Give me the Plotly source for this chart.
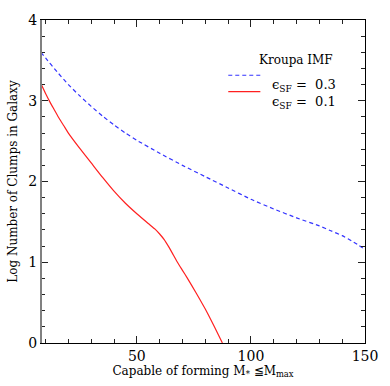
import plotly.graph_objects as go

# eps_SF = 0.3 (blue dashed)
mass_03 = [8, 10, 15, 20, 25, 30, 35, 40, 45, 50, 60, 70, 80, 90, 100, 110, 120, 130, 135, 140, 145, 150]
logn_03 = [3.60, 3.53, 3.36, 3.20, 3.06, 2.93, 2.81, 2.70, 2.60, 2.51, 2.35, 2.20, 2.06, 1.92, 1.78,
           1.66, 1.55, 1.45, 1.39, 1.33, 1.25, 1.16]

# eps_SF = 0.1 (red solid)
mass_01 = [8, 10, 12, 14, 16, 18, 20, 25, 30, 35, 40, 45, 50, 55, 58, 60, 62, 64, 66, 68, 70, 72,
           76, 80, 84, 87.5]
logn_01 = [3.21, 3.09, 2.98, 2.88, 2.78, 2.69, 2.60, 2.41, 2.23, 2.05, 1.88, 1.73, 1.60, 1.48, 1.41,
           1.35, 1.28, 1.19, 1.09, 0.99, 0.90, 0.81, 0.62, 0.42, 0.20, 0.0]

FONT = "DejaVu Serif"
BLUE = "#3333ff"
RED = "#ff2020"

fig = go.Figure()
fig.add_trace(go.Scatter(x=mass_03, y=logn_03, mode="lines",
                         line=dict(color=BLUE, width=1.2, dash="4px,3px", shape="spline", smoothing=0.5),
                         showlegend=False))
fig.add_trace(go.Scatter(x=mass_01, y=logn_01, mode="lines",
                         line=dict(color=RED, width=1.2, shape="spline", smoothing=0.5),
                         showlegend=False))

axis_common = dict(
    showgrid=False, zeroline=False, showline=True, linecolor="black", linewidth=1,
    mirror="ticks", ticks="inside", ticklen=7, tickwidth=1.3, tickcolor="#222222",
    tickfont=dict(family=FONT, size=14, color="black"),
)

fig.update_xaxes(**axis_common, range=[8, 150], tickvals=[50, 100, 150],
                 minor=dict(dtick=10, tick0=0, ticks="inside", ticklen=4, tickwidth=1.3,
                            tickcolor="#222222"),
                 title=dict(text="Capable of forming M<sub>*</sub> ≦M<sub>max</sub>",
                            font=dict(family=FONT, size=12, color="black"), standoff=2))
fig.update_yaxes(**axis_common, range=[0, 4], tickvals=[0, 1, 2, 3, 4],
                 minor=dict(dtick=0.2, tick0=0, ticks="inside", ticklen=4, tickwidth=1.3,
                            tickcolor="#222222"),
                 title=dict(text="Log Number of Clumps in Galaxy",
                            font=dict(family=FONT, size=12, color="black"), standoff=8))

# left frame edge drawn gray like the reference
fig.add_shape(type="line", xref="paper", yref="paper", x0=0, x1=0, y0=0, y1=1,
              line=dict(color="#808080", width=2))

# legend block
fig.add_annotation(xref="paper", yref="paper", x=0.787, y=0.904, xanchor="center",
                   text="Kroupa IMF", showarrow=False,
                   font=dict(family=FONT, size=12, color="black"))
fig.add_shape(type="line", xref="paper", yref="paper", x0=0.578, x1=0.677, y0=0.829, y1=0.829,
              line=dict(color=BLUE, width=1.2, dash="4px,3px"))
fig.add_shape(type="line", xref="paper", yref="paper", x0=0.578, x1=0.677, y0=0.778, y1=0.778,
              line=dict(color=RED, width=1.2))
fig.add_annotation(xref="paper", yref="paper", x=0.708, y=0.829, xanchor="left",
                   text="ϵ<sub>SF</sub> =  0.3", showarrow=False,
                   font=dict(family=FONT, size=13, color="black"))
fig.add_annotation(xref="paper", yref="paper", x=0.708, y=0.778, xanchor="left",
                   text="ϵ<sub>SF</sub> =  0.1", showarrow=False,
                   font=dict(family=FONT, size=13, color="black"))

fig.update_layout(
    width=390, height=386,
    margin=dict(l=39, r=17, t=12, b=41),
    plot_bgcolor="white", paper_bgcolor="white",
)
fig.write_html("out.html", config={"displayModeBar": False},
               post_script="document.body.style.margin='0';")
